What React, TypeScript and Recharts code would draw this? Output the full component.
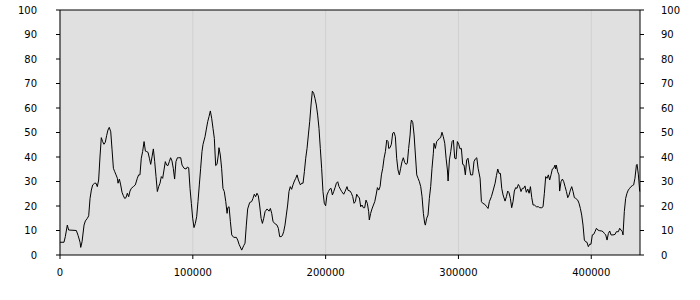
import { LineChart, Line, XAxis, YAxis, CartesianGrid, ReferenceLine } from "recharts";

// sample positions (x) and readings (y), split into four stretches of the run
const XS_A = [
  0, 3000, 4000, 5500, 6500, 12300, 13600, 15100, 15600, 16600, 18100, 19100, 20600, 21600, 22600,
  23600, 24600, 26100, 27100, 28100, 29100, 30100, 31100, 32100, 33100, 34100, 35100, 36100, 37100,
  38200, 39200, 40200, 41200, 42200, 43200, 43700, 44700, 45700, 46700, 47700, 48700, 49700, 50700,
  51700, 52700, 53700, 55200, 56700, 58200, 59200, 60200, 61200, 62200, 63300, 64300, 65300, 66300,
  67300, 68300, 69300, 70300, 71300, 72300, 73300, 74300, 75300, 76300, 77300, 78300, 79300, 80300,
  81300, 82300, 83300, 84300, 85300, 86300, 87300, 88400, 89400, 90900, 91900, 93400, 94900, 95900,
  96900, 97900, 98900, 99900, 100900, 101900, 102900, 103900, 104900, 105900, 106900,
];
const YS_A = [
  5.2, 5.2, 7.5, 12.2, 10.2, 10, 8, 5.2, 3.1, 5.4, 12.2, 13.9, 15, 16, 23,
  26.5, 28.6, 29.3, 29.3, 27.9, 30.6, 40, 47.9, 46.3, 45.2, 46, 48.7, 51, 52.1,
  50.3, 42.9, 35.4, 34, 32.7, 31.3, 29.3, 31, 28.6, 25.6, 24.2, 23.1, 23.4, 25.2,
  23.8, 26.1, 27.2, 27.9, 28.6, 31.3, 32.7, 32.7, 39.5, 42.2, 46.3, 42.4, 42.2, 41.9,
  39.5, 37, 40.1, 43.3, 38.1, 32, 25.9, 27.9, 29.3, 32, 31.3, 34.7, 38.1, 36.7,
  36.5, 38.1, 39.7, 38.4, 35.4, 31, 38.1, 39.7, 39.7, 39.7, 36.7, 35.4, 35.1, 35.9,
  35.6, 27.2, 21.1, 15, 11.2, 12.9, 15.6, 21.8, 28.6, 35.4, 42.2,
];

const XS_B = [
  107700, 109200, 110200, 111200, 112200, 113200, 114200, 115200, 116200, 117200, 118200, 119200,
  119700, 120700, 121700, 122700, 123700, 124800, 125800, 126300, 127300, 128300, 129300, 130800,
  132800, 133800, 134800, 136800, 138300, 139300, 140300, 141300, 142800, 144300, 145300, 146300,
  147300, 148300, 149300, 150300, 151400, 152400, 153400, 154400, 155900, 157400, 158400, 159400,
  160400, 161900, 163400, 164400, 165400, 166400, 167400, 168400, 169400, 170400, 171400, 172400,
  173400, 174400, 175400, 176500, 177500, 178500, 179500, 181000, 182000, 183000, 184000, 185000,
  186000, 187000, 188000, 189000, 190000, 191000, 192000, 193000, 194000, 195000, 196000, 197000,
  198000, 199000, 200000, 201000, 202100, 203100, 204100, 205100, 206100, 207100, 208100, 209100,
  210100, 211100, 212100, 213600, 214600, 216100,
];
const YS_B = [
  45.2, 48.3, 51.4, 54.4, 56.5, 58.8, 55.8, 51.7, 47.6, 36.5, 37, 40.8,
  43.8, 40.8, 35.4, 27.2, 25.9, 21.8, 17, 19.3, 19.7, 13.6, 8.2, 7.2,
  7.2, 6.1, 4.4, 2, 3.8, 4.8, 12.2, 18.8, 21.4, 21.8, 23.1, 24.8,
  23.8, 25.2, 24.2, 20.4, 15, 12.9, 15, 17.7, 18.8, 17.9, 19, 17,
  13.6, 12.8, 12.2, 10.9, 7.5, 7.5, 7.9, 9.5, 12.2, 16.3, 20.4, 25.9,
  27.9, 26.8, 28.6, 30.2, 31.3, 32.7, 30.6, 28.6, 29.3, 29.3, 34, 39.5,
  43.5, 49, 54.4, 61.2, 66.9, 66, 63.9, 61.2, 57.1, 51.7, 43.5, 35.4,
  25.9, 21.1, 20.1, 24.5, 25.9, 26.9, 27.2, 24.5, 25.9, 27.5, 29.3, 29.9,
  27.9, 26.9, 25.9, 24.8, 25.9, 27.9,
];

const XS_C = [
  216900, 218400, 219400, 220400, 221400, 222400, 223400, 224400, 225400, 226400, 227400, 228400,
  229400, 230400, 231400, 232400, 232900, 233900, 234900, 236000, 237000, 238000, 239000, 240000,
  241000, 242000, 243000, 244000, 245000, 246000, 247000, 247500, 248500, 249500, 250500, 251500,
  252500, 253500, 254500, 255500, 256500, 257500, 258500, 259500, 260500, 261500, 262500, 263600,
  264100, 264600, 265600, 266600, 267600, 268600, 269600, 270600, 271600, 272600, 273600, 274600,
  275100, 276100, 277100, 278100, 279100, 280100, 281100, 281600, 282600, 283600, 284600, 285600,
  286600, 287600, 288600, 289700, 290700, 291700, 292200, 293200, 294200, 295200, 296200, 297200,
  298200, 299200, 300200, 301200, 302200, 303200, 304200, 305200, 306200, 307200, 308200, 309200,
  310700, 311700, 312700, 313800, 314800, 316300, 317300, 318300, 319800, 321300, 322300, 323300,
  324800,
];
const YS_C = [
  26.4, 26.1, 25.2, 23.8, 21.1, 21.8, 24.8, 23.8, 23.4, 19.7, 20.4, 19.3,
  19.3, 22.4, 21.1, 17.7, 14.3, 17, 18.8, 20.4, 21.8, 24.5, 27.5, 26.5,
  27.9, 32.7, 35.4, 39.5, 42.2, 46.9, 46.3, 43.5, 43.8, 45.2, 49.7, 50.1,
  48.3, 39.5, 34.7, 32.7, 35.4, 38.1, 39.7, 37.8, 37, 37.4, 43.5, 49,
  53.3, 55.1, 54.1, 49, 40.8, 32.7, 31.3, 29.9, 27.9, 23.8, 17, 12.9,
  12.2, 15, 16.3, 23.1, 27.9, 35.4, 41.5, 45.6, 43.5, 46.3, 46.9, 47.6,
  47.9, 50.1, 48.3, 45.6, 39.5, 34.7, 30.2, 38.8, 42.2, 46.3, 46.9, 39.5,
  39.2, 46.3, 45.2, 43.3, 43.5, 37, 36.7, 32.7, 38.8, 39.5, 35.9, 32.7,
  32.7, 38.1, 39.2, 39.7, 35.4, 31.3, 21.8, 21.1, 20.7, 19.7, 19, 21.8,
  23.8,
];

const XS_D = [
  326000, 327600, 328600, 329600, 330600, 331600, 332600, 333600, 335100, 336100, 337100, 338100,
  339100, 340100, 341100, 342100, 343100, 344100, 345100, 346100, 347100, 348100, 349100, 350100,
  351100, 352200, 353200, 354200, 355200, 356200, 357200, 358700, 360200, 361200, 362700, 363700,
  364700, 365700, 366700, 367700, 368700, 369700, 370700, 371700, 372700, 373200, 373700, 374700,
  375700, 376200, 377200, 378300, 379300, 380300, 381300, 382300, 383300, 384300, 385300, 386300,
  387300, 388300, 389800, 390800, 391800, 392800, 393800, 394800, 395800, 396800, 397800, 398800,
  399800, 400800, 401800, 402800, 403900, 404900, 406400, 407900, 408900, 409900, 410900, 411900,
  412900, 413900, 414900, 416400, 417900, 418900, 420400, 421400, 422400, 423400, 423900, 424900,
  425900, 426900, 427900, 428900, 429900, 430900, 431900, 432900, 434000, 434500, 435500, 436500,
];
const YS_D = [
  26.1, 29.3, 32.4, 35.1, 33.3, 33.3, 27.2, 24.5, 22, 23.8, 26.1, 25.4,
  23.1, 19.3, 21.8, 26.1, 27.5, 27.2, 28.8, 27.9, 25.9, 27.2, 27.2, 28.2,
  25.6, 26.9, 25.2, 27.9, 23.4, 20.4, 20.4, 19.7, 19.7, 19.3, 19.3, 19.7,
  25.2, 32, 31.3, 32.7, 30.6, 32.7, 35.1, 35.4, 36.7, 35.1, 36.7, 34,
  32.7, 26.1, 29.9, 31, 29.9, 27.9, 25.9, 23.4, 24.5, 26.5, 27.9, 25.9,
  23.4, 23.1, 22.4, 21.1, 19, 16.3, 12.2, 6.1, 5.4, 5.2, 3.4, 4.4,
  4.4, 8.2, 8.4, 9.5, 10.9, 10.2, 9.9, 9.8, 9.5, 8.8, 8.2, 6.1,
  8.8, 9.8, 8.2, 8.2, 8.4, 9.5, 9.5, 10.9, 10.2, 9.5, 8.2, 17.7,
  23.1, 25.2, 26.5, 27.2, 27.9, 28.3, 28.6, 31.3, 36.7, 37, 32.7, 25.9,
];

const X_TICKS = [0, 100000, 200000, 300000, 400000];
const Y_TICKS = [0, 10, 20, 30, 40, 50, 60, 70, 80, 90, 100];
const X_MAX = 436700;

const xs = [...XS_A, ...XS_B, ...XS_C, ...XS_D];
const ys = [...YS_A, ...YS_B, ...YS_C, ...YS_D];
const data = xs.map((x, i) => ({ x, y: ys[i] }));

const tickStyle = { fontFamily: "DejaVu Sans", fontSize: 10, fill: "#000" };

export default function App() {
  return (
    <div style={{ position: "absolute", left: 0, top: 0, width: 700, height: 300, background: "#fff" }}>
      <LineChart width={700} height={300} data={data} margin={{ top: 10, right: 0, bottom: 15, left: 0 }}>
        <CartesianGrid fill="#e0e0e0" stroke="#d0d0d0" verticalValues={X_TICKS} horizontalValues={Y_TICKS} />
        <XAxis
          dataKey="x"
          type="number"
          domain={[0, X_MAX]}
          ticks={X_TICKS}
          height={30}
          tickSize={4}
          tickMargin={10}
          stroke="#000"
          tick={tickStyle}
          tickLine={{ stroke: "#000" }}
        />
        <YAxis
          yAxisId="left"
          type="number"
          domain={[0, 100]}
          ticks={Y_TICKS}
          width={60}
          tickSize={4}
          tickMargin={19}
          stroke="#000"
          tick={tickStyle}
          interval={0}
        />
        <YAxis
          yAxisId="right"
          type="number"
          orientation="right"
          domain={[0, 100]}
          ticks={Y_TICKS}
          width={60}
          tickSize={4}
          tickMargin={17}
          stroke="#000"
          tick={tickStyle}
          interval={0}
        />
        <ReferenceLine yAxisId="right" y={100} stroke="#000" ifOverflow="extendDomain" />
        {/* invisible twin so the right-hand axis gets laid out */}
        <Line
          yAxisId="right"
          type="linear"
          dataKey="y"
          stroke="none"
          dot={false}
          activeDot={false}
          isAnimationActive={false}
        />
        <Line
          yAxisId="left"
          type="linear"
          dataKey="y"
          stroke="#000"
          strokeWidth={1}
          dot={false}
          isAnimationActive={false}
        />
      </LineChart>
    </div>
  );
}
